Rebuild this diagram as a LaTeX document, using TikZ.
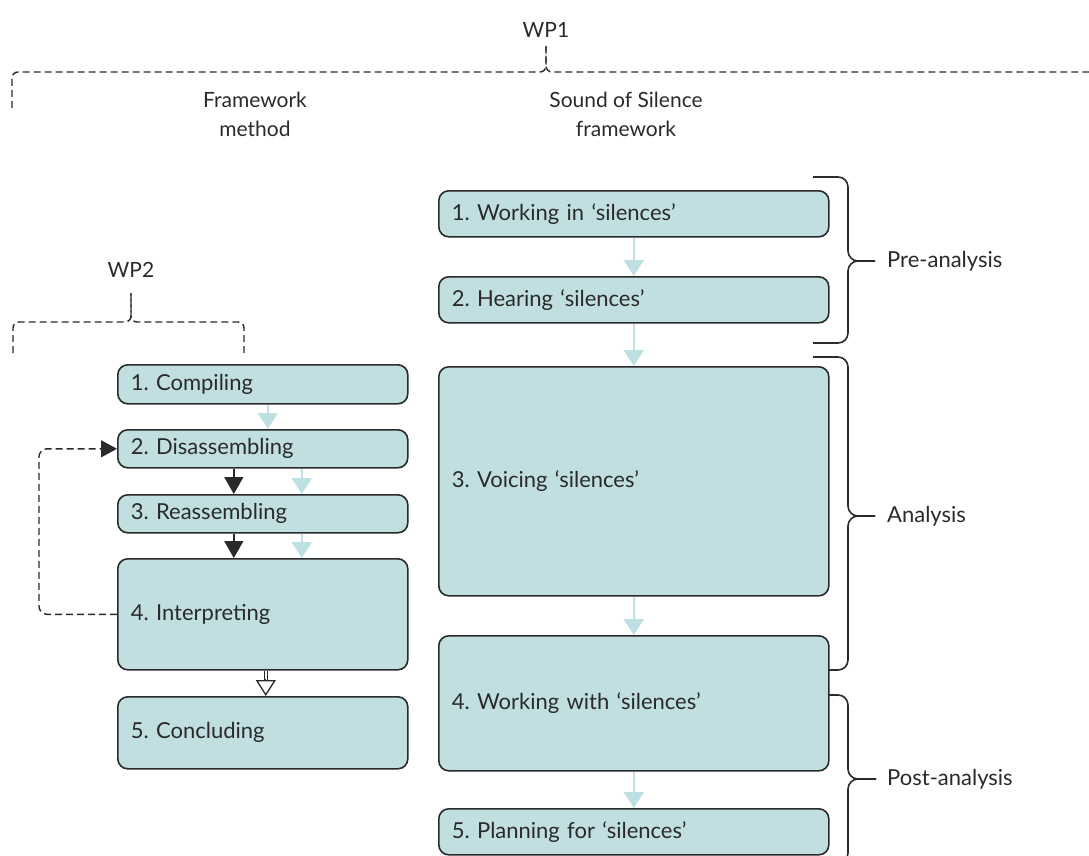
\documentclass[tikz,border=0pt]{standalone}
\usepackage{fontspec}
\setmainfont{Lato}
\usetikzlibrary{arrows.meta,calc}
\definecolor{boxfill}{HTML}{C1DFE1}
\definecolor{lightarrow}{HTML}{BDE0E3}
\definecolor{ink}{HTML}{2A2A2A}
\frenchspacing
\begin{document}
\begin{tikzpicture}[x=1pt,y=-1pt,
  font=\fontsize{22}{29}\selectfont, text=ink,
  stagebox/.style={draw=ink, line width=1.6pt, fill=boxfill, rounded corners=10pt,
    anchor=north west, inner xsep=13pt, inner ysep=0pt, align=left},
  lightarr/.style={draw=lightarrow, line width=2pt, -{Triangle[length=16pt,width=20pt]}},
  darkarr/.style={draw=ink, line width=1.6pt, -{Triangle[length=17pt,width=19pt]}},
  dashbrace/.style={draw=ink, line width=1.4pt, dash pattern=on 7pt off 4pt, rounded corners=6pt},
  solidbrace/.style={draw=ink, line width=1.6pt, rounded corners=10pt},
  lbl/.style={inner sep=0pt, align=center},
  head/.style={lbl, font=\fontsize{21}{29}\selectfont}]
\useasboundingbox (0,0) rectangle (1089,856);

% headings
\node[head] (wp1) at (546,30) {WP1};
\node[head] (fm) at (255,114) {Framework\\method};
\node[head] (sos) at (626,114) {Sound of Silence\\framework};
\node[head] (wp2) at (131,270) {WP2};

% WP1 dashed brace
\draw[dashbrace] (12,108) -- (12,72) -- (546,72) -- (546,46);
\draw[dashbrace] (1100,108) -- (1100,72) -- (546,72) -- (546,46);
% WP2 dashed brace
\draw[dashbrace] (13,353) -- (13,322) -- (131,322) -- (131,293);
\draw[dashbrace] (244,353) -- (244,322) -- (131,322) -- (131,293);

% left column
\node[stagebox, minimum width=290pt, minimum height=39pt, text width=264pt] (l1) at (117,364) {1. Compiling};
\node[stagebox, minimum width=290pt, minimum height=38pt, text width=264pt] (l2) at (117,429) {2. Disassembling};
\node[stagebox, minimum width=290pt, minimum height=38pt, text width=264pt] (l3) at (117,494) {3. Reassembling};
\node[stagebox, minimum width=290pt, minimum height=111pt, text width=264pt] (l4) at (117,558) {4. Interpreting};
\node[stagebox, minimum width=290pt, minimum height=72pt, text width=264pt] (l5) at (117,696) {5. Concluding};

% right column
\node[stagebox, minimum width=390pt, minimum height=46pt, text width=364pt] (r1) at (438,190) {1. Working in ‘silences’};
\node[stagebox, minimum width=390pt, minimum height=46pt, text width=364pt] (r2) at (438,276) {2. Hearing ‘silences’};
\node[stagebox, minimum width=390pt, minimum height=229pt, text width=364pt] (r3) at (438,366) {3. Voicing ‘silences’};
\node[stagebox, minimum width=390pt, minimum height=135pt, text width=364pt] (r4) at (438,635) {4. Working with ‘silences’};
\node[stagebox, minimum width=390pt, minimum height=46pt, text width=364pt] (r5) at (438,808) {5. Planning for ‘silences’};

% right arrows
\draw[lightarr] (r1.south) -- (r2.north);
\draw[lightarr] (r2.south) -- (r3.north);
\draw[lightarr] (r3.south) -- (r4.north);
\draw[lightarr] (r4.south) -- (r5.north);

% left arrows
\draw[lightarr] ($(l1.south)+(5,0)$) -- ($(l2.north)+(5,0)$);
\draw[darkarr] ($(l2.south)+(-29,0)$) -- ($(l3.north)+(-29,0)$);
\draw[lightarr] ($(l2.south)+(39,0)$) -- ($(l3.north)+(39,0)$);
\draw[darkarr] ($(l3.south)+(-29,0)$) -- ($(l4.north)+(-29,0)$);
\draw[lightarr] ($(l3.south)+(39,0)$) -- ($(l4.north)+(39,0)$);

% open double arrow 4 -> 5
\draw[ink, line width=1.1pt, double=white, double distance=1.8pt] ($(l4.south)+(3,0)$) -- ($(l5.north)+(3,-15)$);
\draw[ink, line width=1.3pt, -{Triangle[open,length=16pt,width=20pt,fill=white]}] ($(l5.north)+(3,-17)$) -- ($(l5.north)+(3,0)$);

% feedback loop
\draw[ink, line width=1.4pt, dash pattern=on 7pt off 4pt, rounded corners=8pt,
  -{Triangle[length=16pt,width=17pt]}] (l4.west) -- ++(-78,0) |- (l2.west);

% right braces
\draw[solidbrace] (813,177) -- (848,177) -- (848,261) -- (875,261);
\draw[solidbrace] (813,343) -- (848,343) -- (848,261) -- (875,261);
\node[lbl, anchor=west] (pre) at (887,261) {Pre-analysis};

\draw[solidbrace] (813,357) -- (848,357) -- (848,516) -- (875,516);
\draw[solidbrace] (828,670) -- (848,670) -- (848,516) -- (875,516);
\node[lbl, anchor=west] (ana) at (887,516) {Analysis};

\draw[solidbrace] (828,695) -- (848,695) -- (848,779) -- (876,779);
\draw[solidbrace] (828,863) -- (848,863) -- (848,779) -- (876,779);
\node[lbl, anchor=west] (post) at (887,779) {Post-analysis};
\end{tikzpicture}
\end{document}
